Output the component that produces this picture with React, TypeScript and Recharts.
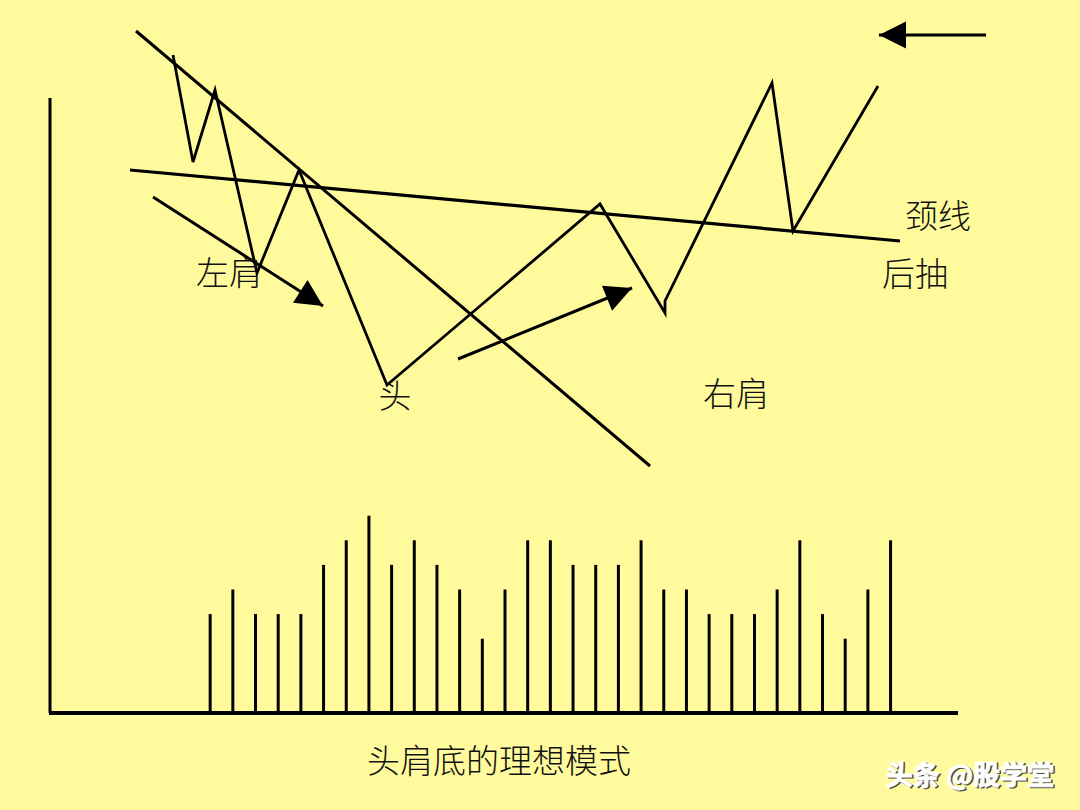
import { ComposedChart, Line, Bar, XAxis, YAxis, ReferenceLine, ReferenceDot } from 'recharts'

const W = 1080
const H = 810
const BG = '#FFFB9C'
const INK = '#000000'
const CJK = "'Noto Sans CJK SC', 'Noto Sans', sans-serif"

// price path: time (x) / price (y)
const priceT = [173, 193, 215, 257, 299, 387, 600, 665, 665, 772, 793, 878]
const priceV = [755, 648, 720, 537, 640, 425, 606, 497, 509, 727, 579, 724]

const trendLine = [{ x: 136, y: 779 }, { x: 650, y: 344 }]
const neckLine = [{ x: 130, y: 640 }, { x: 900, y: 569 }]
const arrowDown = [{ x: 153, y: 613 }, { x: 323, y: 504 }]
const arrowUp = [{ x: 458, y: 451 }, { x: 632, y: 522 }]
const arrowBack = [{ x: 986, y: 775 }, { x: 879, y: 775 }]

// volume per period (31 periods)
const volumes = [4, 5, 4, 4, 4, 6, 7, 8, 6, 7, 6, 5, 3, 5, 7, 7, 6, 6, 6, 7, 5, 5, 4, 4, 4, 5, 7, 4, 3, 5, 7]

const labels = [
  { text: '左肩', x: 229, y: 539 },
  { text: '头', x: 395, y: 416 },
  { text: '右肩', x: 736, y: 418 },
  { text: '颈线', x: 938, y: 596 },
  { text: '后抽', x: 915, y: 538 },
]
const title = { text: '头肩底的理想模式', x: 499, y: 51 }
const watermark = { text: '头条 @股学堂', x: 970, y: 37 }

const priceData = priceT.map((x, i) => ({ x, y: priceV[i] }))
const volData = volumes.map((v, i) => ({ i: i + 1, v }))

// volume axes placement: period 1 at x=210, 22.68 per period; volume 0 at price 97.5, 24.6 per unit
const VOL_X0 = 210
const VOL_STEP = 22.68
const VOL_BASE = 97.5
const VOL_UNIT = 24.6
const volXDomain = [1 - VOL_X0 / VOL_STEP, 1 + (W - VOL_X0) / VOL_STEP]
const volYDomain = [-VOL_BASE / VOL_UNIT, (H - VOL_BASE) / VOL_UNIT]

function arrowHead(data: { x: number; y: number }[]) {
  return (props: any) => {
    const { cx, cy, index } = props
    if (index !== data.length - 1) return <g key={index} />
    const a = data[index - 1]
    const b = data[index]
    const ang = Math.atan2(-(b.y - a.y), b.x - a.x)
    const len = 27
    const half = 13.5
    const bx = cx - len * Math.cos(ang)
    const by = cy - len * Math.sin(ang)
    const px = -Math.sin(ang) * half
    const py = Math.cos(ang) * half
    const pts = `${cx},${cy} ${bx + px},${by + py} ${bx - px},${by - py}`
    return <polygon key={index} points={pts} fill={INK} />
  }
}

export default function App() {
  return (
    <div style={{ position: 'absolute', left: 0, top: 0, width: W, height: H, background: BG }}>
      <ComposedChart width={W} height={H} data={volData} margin={{ top: 0, right: 0, bottom: 0, left: 0 }}>
        <XAxis xAxisId="p" type="number" dataKey="x" domain={[0, W]} allowDataOverflow hide />
        <YAxis yAxisId="p" type="number" domain={[0, H]} allowDataOverflow hide />
        <XAxis xAxisId="vol" type="number" dataKey="i" domain={volXDomain} allowDataOverflow hide />
        <YAxis yAxisId="vol" type="number" domain={volYDomain} allowDataOverflow hide />

        {/* frame axes */}
        <ReferenceLine xAxisId="p" yAxisId="p" segment={[{ x: 50, y: 712 }, { x: 50, y: 97 }]} stroke={INK} strokeWidth={3} />
        <ReferenceLine xAxisId="p" yAxisId="p" segment={[{ x: 49, y: 97 }, { x: 958, y: 97 }]} stroke={INK} strokeWidth={4} />

        <Bar xAxisId="vol" yAxisId="vol" dataKey="v" fill={INK} barSize={3} isAnimationActive={false} />

        <Line xAxisId="p" yAxisId="p" data={trendLine} dataKey="y" stroke={INK} strokeWidth={3} dot={false} activeDot={false} isAnimationActive={false} />
        <Line xAxisId="p" yAxisId="p" data={neckLine} dataKey="y" stroke={INK} strokeWidth={3.2} dot={false} activeDot={false} isAnimationActive={false} />
        <Line xAxisId="p" yAxisId="p" data={priceData} dataKey="y" stroke={INK} strokeWidth={2.8} dot={false} activeDot={false} isAnimationActive={false} />
        <Line xAxisId="p" yAxisId="p" data={arrowDown} dataKey="y" stroke={INK} strokeWidth={3} dot={arrowHead(arrowDown)} activeDot={false} isAnimationActive={false} />
        <Line xAxisId="p" yAxisId="p" data={arrowUp} dataKey="y" stroke={INK} strokeWidth={3} dot={arrowHead(arrowUp)} activeDot={false} isAnimationActive={false} />
        <Line xAxisId="p" yAxisId="p" data={arrowBack} dataKey="y" stroke={INK} strokeWidth={3} dot={arrowHead(arrowBack)} activeDot={false} isAnimationActive={false} />

        {labels.map((l) => (
          <ReferenceDot
            key={l.text}
            xAxisId="p"
            yAxisId="p"
            x={l.x}
            y={l.y}
            r={0}
            shape={(p: any) => (
              <text x={p.cx} y={p.cy} textAnchor="middle" dominantBaseline="central" fontSize={33} fontWeight={300} fontFamily={CJK} fill="#111">
                {l.text}
              </text>
            )}
          />
        ))}
        <ReferenceDot
          xAxisId="p"
          yAxisId="p"
          x={title.x}
          y={title.y}
          r={0}
          shape={(p: any) => (
            <text x={p.cx} y={p.cy} textAnchor="middle" dominantBaseline="central" fontSize={33} fontWeight={300} fontFamily={CJK} fill="#111">
              {title.text}
            </text>
          )}
        />
        <ReferenceDot
          xAxisId="p"
          yAxisId="p"
          x={watermark.x}
          y={watermark.y}
          r={0}
          shape={(p: any) => (
            <g>
              <text x={p.cx + 1.5} y={p.cy + 1.5} textAnchor="middle" dominantBaseline="central" fontSize={27} fontWeight={700} fontFamily={CJK} fill="#444" stroke="#444" strokeWidth={0.8}>
                {watermark.text}
              </text>
              <text x={p.cx} y={p.cy} textAnchor="middle" dominantBaseline="central" fontSize={27} fontWeight={700} fontFamily={CJK} fill="#fff" stroke="#fff" strokeWidth={0.8}>
                {watermark.text}
              </text>
            </g>
          )}
        />
      </ComposedChart>
    </div>
  )
}
